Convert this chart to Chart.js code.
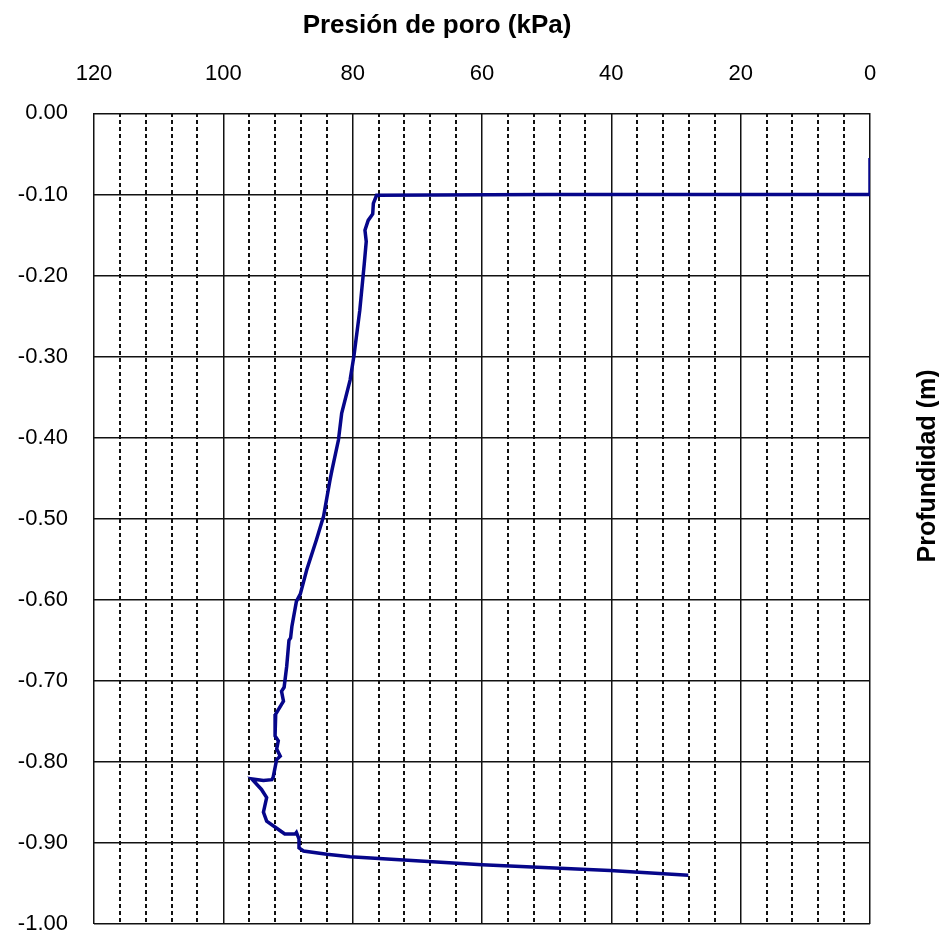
<!DOCTYPE html>
<html>
<head>
<meta charset="utf-8">
<script src="https://cdn.jsdelivr.net/npm/chart.js@4.4.1/dist/chart.umd.min.js"></script>
<style>
  html, body { margin: 0; padding: 0; background: #fff; overflow: hidden; }
  #wrap { width: 939px; height: 932px; }
</style>
</head>
<body>
<div id="wrap"><canvas id="poroChart"></canvas></div>
<script>
// pore pressure (kPa) vs depth (m)
const presion = [0, 0, 20, 50, 76.3, 76.8, 76.9, 77.6, 78.1, 77.9, 78.2, 78.9, 79.8, 80.4, 81.7, 82.2,
  83.2, 83.5, 84.5, 85.6, 87.1, 88.1, 88.7, 89.4, 89.6, 89.85, 90.2, 90.6, 91.0, 90.7, 91.9, 92.0,
  91.5, 91.75, 91.2, 91.75, 92.3, 92.5, 93.8, 95.6, 94.1, 93.3, 93.8, 93.3, 91.2, 90.5, 88.9, 88.7,
  88.3, 88.3, 87.6, 84.0, 80.4, 60.0, 40.2, 28.1];
const profundidad = [-0.055, -0.100, -0.100, -0.100, -0.101, -0.111, -0.124, -0.132, -0.144, -0.158, -0.185,
  -0.243, -0.299, -0.329, -0.370, -0.403, -0.440, -0.452, -0.497, -0.526, -0.563, -0.593, -0.602, -0.633,
  -0.647, -0.650, -0.682, -0.708, -0.713, -0.725, -0.741, -0.768, -0.774, -0.784, -0.793, -0.797, -0.819,
  -0.822, -0.823, -0.821, -0.834, -0.844, -0.862, -0.873, -0.885, -0.889, -0.889, -0.887, -0.895, -0.906,
  -0.910, -0.914, -0.917, -0.927, -0.934, -0.940];

const xTitle = "Presión de poro (kPa)";
const yTitle = "Profundidad (m)";

const puntos = presion.map((p, i) => ({ x: p, y: profundidad[i] }));
const FONT = "'Liberation Sans', Arial, sans-serif";

// both axis titles are placed by hand: x title is off-centre, y title sits on the right reading upwards
const axisTitles = {
  id: "axisTitles",
  afterDraw(chart) {
    const ctx = chart.ctx;
    ctx.save();
    ctx.fillStyle = "#000";
    ctx.textAlign = "center";
    ctx.textBaseline = "middle";
    ctx.font = "bold 26px " + FONT;
    ctx.fillText(xTitle, 437, 26);
    ctx.translate(928, 466);
    ctx.rotate(-Math.PI / 2);
    ctx.font = "bold 25px " + FONT;
    ctx.fillText(yTitle, 0, 0);
    ctx.restore();
  },
};

const isMajor = (c) => c.tick && Math.round(c.tick.value) % 20 === 0;

const ctx = document.getElementById("poroChart").getContext("2d");
new Chart(ctx, {
  type: "scatter",
  data: {
    datasets: [
      {
        label: "Presión de poro",
        data: puntos,
        showLine: true,
        borderColor: "#06068a",
        borderWidth: 3.5,
        pointRadius: 0,
        tension: 0,
      },
    ],
  },
  options: {
    responsive: true,
    maintainAspectRatio: false,
    animation: false,
    layout: { padding: { left: 0, right: 69, top: 35, bottom: 0 } },
    plugins: {
      legend: { display: false },
      tooltip: { enabled: false },
    },
    scales: {
      x: {
        type: "linear",
        position: "top",
        reverse: true,
        min: 0,
        max: 120,
        ticks: {
          stepSize: 4,
          autoSkip: false,
          maxRotation: 0,
          padding: 26,
          color: "#000",
          font: { family: FONT, size: 22 },
          callback: (v) => (Math.round(v) % 20 === 0 ? String(Math.round(v)) : ""),
        },
        grid: {
          color: "#111",
          lineWidth: (c) => (isMajor(c) ? 1.5 : 2),
          drawTicks: false,
        },
        border: {
          display: false,
          dash: (c) => (isMajor(c) ? [] : [4, 3]),
        },
      },
      y: {
        type: "linear",
        min: -1,
        max: 0,
        afterFit: (s) => {
          s.width = 94;
          s.paddingBottom = 8;
          s.paddingTop = 0;
        },
        ticks: {
          stepSize: 0.1,
          padding: 26,
          color: "#000",
          font: { family: FONT, size: 22 },
          callback: (v) => Number(v).toFixed(2),
        },
        grid: {
          color: "#111",
          lineWidth: 1.5,
          drawTicks: false,
        },
        border: { display: false },
      },
    },
  },
  plugins: [axisTitles],
});
</script>
</body>
</html>
